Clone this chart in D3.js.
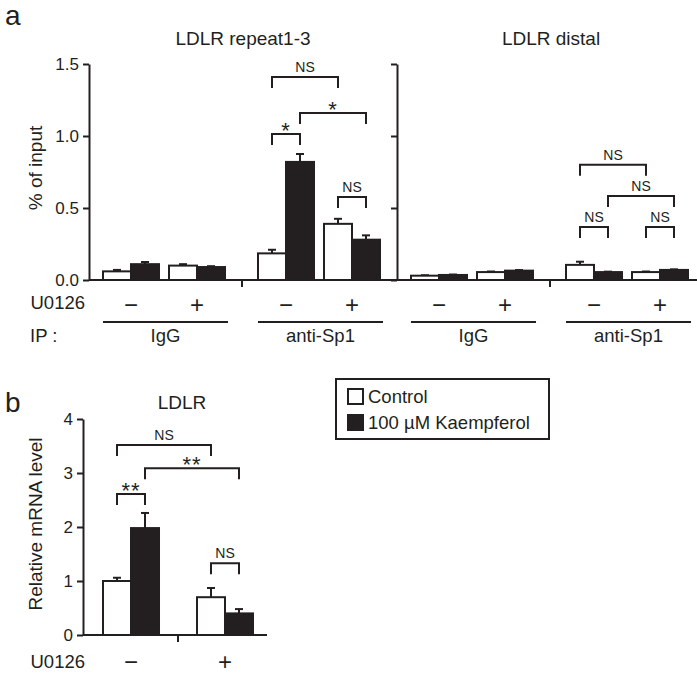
<!DOCTYPE html>
<html><head><meta charset="utf-8">
<script src="https://cdn.jsdelivr.net/npm/d3@7"></script>
<style>
body{margin:0;background:#fff}
svg{display:block}
text{font-family:"Liberation Sans",Arial,Helvetica,sans-serif;fill:#231f20}
</style>
</head><body>
<svg id="c" width="697" height="677"></svg>
<script>
// ---------- data ----------
const PANEL_A = ["LDLR repeat1-3", "LDLR distal"];
const IP = ["IgG", "anti-Sp1"];
const U0126 = ["\u2212", "+"];
const SERIES = ["Control", "100 \u00b5M Kaempferol"];
// order: IgG −, IgG +, anti-Sp1 −, anti-Sp1 +
const repeatControl    = [0.06, 0.10, 0.185, 0.39];
const repeatControlErr = [0.01, 0.01, 0.025, 0.035];
const repeatKaemp      = [0.11, 0.09, 0.82, 0.28];
const repeatKaempErr   = [0.015, 0.006, 0.055, 0.03];
const distalControl    = [0.03, 0.055, 0.105, 0.055];
const distalControlErr = [0.003, 0.004, 0.022, 0.004];
const distalKaemp      = [0.035, 0.065, 0.055, 0.07];
const distalKaempErr   = [0.003, 0.004, 0.003, 0.004];
const A_TICKS = [0, 0.5, 1.0, 1.5];
// panel b: U0126 −, +
const mrnaControl    = [1.0, 0.70];
const mrnaControlErr = [0.06, 0.17];
const mrnaKaemp      = [1.98, 0.40];
const mrnaKaempErr   = [0.28, 0.08];
const B_TICKS = [0, 1, 2, 3, 4];
// significance brackets: [group, series] -> [group, series], level, label
const repeatSig = [
  {a:[2,0], b:[3,0], level:1.41, label:"NS"},
  {a:[2,1], b:[3,1], level:1.16, label:"*"},
  {a:[2,0], b:[2,1], level:1.014, label:"*"},
  {a:[3,0], b:[3,1], level:0.576, label:"NS"}
];
const distalSig = [
  {a:[2,0], b:[3,0], level:0.80, label:"NS"},
  {a:[2,1], b:[3,1], level:0.583, label:"NS"},
  {a:[2,0], b:[2,1], level:0.368, label:"NS"},
  {a:[3,0], b:[3,1], level:0.368, label:"NS"}
];
const mrnaSig = [
  {a:[0,0], b:[1,0], level:3.52, label:"NS"},
  {a:[0,1], b:[1,1], level:3.09, label:"**"},
  {a:[0,0], b:[0,1], level:2.61, label:"**"},
  {a:[1,0], b:[1,1], level:1.33, label:"NS"}
];

// ---------- drawing ----------
const INK = "#231f20";
const svg = d3.select("#c");
const FILL = {"Control":"#fff", "100 \u00b5M Kaempferol":INK};

function drawBars(g, rows){
  rows.forEach(r => {
    const top = r.y(r.v), et = r.y(r.v + r.e);
    const cx = r.x + r.w/2;
    g.append("line").attr("x1",cx).attr("x2",cx).attr("y1",top).attr("y2",et)
      .attr("stroke",INK).attr("stroke-width",2);
    g.append("line").attr("x1",cx-4).attr("x2",cx+4).attr("y1",et).attr("y2",et)
      .attr("stroke",INK).attr("stroke-width",2);
    g.append("rect").attr("x",r.x).attr("y",top).attr("width",r.w)
      .attr("height",r.y(0)-top).attr("fill",FILL[r.s]).attr("stroke",INK).attr("stroke-width",2);
  });
}
function drawSig(g, list, cxOf, y){
  list.forEach(s => {
    const x1 = cxOf(s.a), x2 = cxOf(s.b), ly = y(s.level);
    g.append("path").attr("d",`M${x1},${ly+11}V${ly}H${x2}V${ly+11}`)
      .attr("fill","none").attr("stroke",INK).attr("stroke-width",2);
    const star = s.label.indexOf("*")>=0;
    g.append("text").attr("x",(x1+x2)/2).attr("y", star ? ly+4 : ly-5)
      .attr("text-anchor","middle").attr("font-size", star ? 22 : 14)
      .attr("letter-spacing", star ? 1 : 0).text(s.label);
  });
}
function styleAxis(ax){
  ax.selectAll("path.domain").attr("stroke",INK).attr("stroke-width",2);
  ax.selectAll(".tick line").attr("stroke",INK).attr("stroke-width",2);
  ax.selectAll(".tick text").attr("fill",INK).style("font-family","'Liberation Sans',Arial,sans-serif");
}

// ---- panel a ----
const yA = d3.scaleLinear().domain([0,1.5]).range([280,64]);
const panelX = d3.scaleBand().domain(PANEL_A).range([89,705]);
const ipX = d3.scaleBand().domain(IP).range([-2,308]);
const uX = d3.scaleBand().domain(U0126).range([11,143]);
const sX = d3.scaleBand().domain(SERIES).range([5,61]);
const gA = svg.append("g");

svg.append("text").attr("x",5).attr("y",25).attr("font-size",28).text("a");

const panelData = [
  {name:PANEL_A[0], c:repeatControl, ce:repeatControlErr, k:repeatKaemp, ke:repeatKaempErr, sig:repeatSig},
  {name:PANEL_A[1], c:distalControl, ce:distalControlErr, k:distalKaemp, ke:distalKaempErr, sig:distalSig}
];
panelData.forEach(p => {
  const px = panelX(p.name);
  const gx = i => px + ipX(IP[Math.floor(i/2)]) + uX(U0126[i%2]);
  const rows = [];
  p.c.forEach((v,i) => {
    rows.push({x:gx(i)+sX(SERIES[0]), w:sX.bandwidth(), v, e:p.ce[i], s:SERIES[0], y:yA});
    rows.push({x:gx(i)+sX(SERIES[1]), w:sX.bandwidth(), v:p.k[i], e:p.ke[i], s:SERIES[1], y:yA});
  });
  drawBars(gA, rows);
  drawSig(gA, p.sig, ab => gx(ab[0]) + sX(SERIES[ab[1]]) + sX.bandwidth()/2, yA);
  gA.append("text").attr("x",px+panelX.bandwidth()/2).attr("y",45).attr("text-anchor","middle")
    .attr("font-size",19).text(p.name);
  const sx = px + ipX(IP[1]);
  gA.append("line").attr("x1",sx).attr("x2",sx).attr("y1",280).attr("y2",287).attr("stroke",INK).attr("stroke-width",2);
  IP.forEach(ip => {
    U0126.forEach(u => {
      gA.append("text").attr("x",px+ipX(ip)+uX(u)+uX.bandwidth()/2).attr("y",313)
        .attr("text-anchor","middle").attr("font-size",24).text(u);
    });
    const x1 = px+ipX(ip)+uX(U0126[0])+sX.range()[0];
    const x2 = px+ipX(ip)+uX(U0126[1])+sX.range()[1]+3;
    gA.append("line").attr("x1",x1).attr("x2",x2).attr("y1",322).attr("y2",322).attr("stroke",INK).attr("stroke-width",2);
    gA.append("text").attr("x",(x1+x2)/2).attr("y",342).attr("text-anchor","middle").attr("font-size",18.5).text(ip);
  });
});
gA.append("line").attr("x1",panelX.range()[0]).attr("x2",697).attr("y1",yA(0)).attr("y2",yA(0))
  .attr("stroke",INK).attr("stroke-width",2);
const axA = gA.append("g").attr("transform",`translate(${panelX(PANEL_A[0])},0)`)
  .call(d3.axisLeft(yA).tickValues(A_TICKS).tickFormat(d3.format(".1f")).tickSize(6).tickSizeOuter(0).tickPadding(4));
axA.selectAll(".tick text").attr("font-size",17);
styleAxis(axA);
const axA2 = gA.append("g").attr("transform",`translate(${panelX(PANEL_A[1])},0)`)
  .call(d3.axisLeft(yA).tickValues(A_TICKS).tickFormat("").tickSize(6).tickSizeOuter(0));
styleAxis(axA2);
gA.append("text").attr("transform","translate(42,168) rotate(-90)").attr("text-anchor","middle")
  .attr("font-size",19).text("% of input");
gA.append("text").attr("x",85).attr("y",309).attr("text-anchor","end").attr("font-size",18.5).text("U0126");
gA.append("text").attr("x",30).attr("y",342).attr("font-size",18.5).text("IP :");

// ---- panel b ----
const yB = d3.scaleLinear().domain([0,4]).range([635,419]);
const uXB = d3.scaleBand().domain(U0126).range([84,272]);
const sXB = d3.scaleBand().domain(SERIES).range([19,75]);
const gB = svg.append("g");
svg.append("text").attr("x",5).attr("y",412).attr("font-size",28).text("b");
const rowsB = [];
mrnaControl.forEach((v,i) => {
  rowsB.push({x:uXB(U0126[i])+sXB(SERIES[0]), w:sXB.bandwidth(), v, e:mrnaControlErr[i], s:SERIES[0], y:yB});
  rowsB.push({x:uXB(U0126[i])+sXB(SERIES[1]), w:sXB.bandwidth(), v:mrnaKaemp[i], e:mrnaKaempErr[i], s:SERIES[1], y:yB});
});
drawBars(gB, rowsB);
drawSig(gB, mrnaSig, ab => uXB(U0126[ab[0]]) + sXB(SERIES[ab[1]]) + sXB.bandwidth()/2, yB);
gB.append("line").attr("x1",83).attr("x2",267).attr("y1",yB(0)).attr("y2",yB(0)).attr("stroke",INK).attr("stroke-width",2);
const sepB = uXB(U0126[1]);
gB.append("line").attr("x1",sepB).attr("x2",sepB).attr("y1",635).attr("y2",642).attr("stroke",INK).attr("stroke-width",2);
const axB = gB.append("g").attr("transform","translate(83,0)")
  .call(d3.axisLeft(yB).tickValues(B_TICKS).tickFormat(d3.format("d")).tickSize(6).tickSizeOuter(0).tickPadding(4));
axB.selectAll(".tick text").attr("font-size",17);
styleAxis(axB);
gB.append("text").attr("transform","translate(42,524) rotate(-90)").attr("text-anchor","middle")
  .attr("font-size",19).text("Relative mRNA level");
gB.append("text").attr("x",(uXB.range()[0]+uXB.range()[1])/2 + 4).attr("y",409).attr("text-anchor","middle")
  .attr("font-size",19).text("LDLR");
U0126.forEach(u => {
  gB.append("text").attr("x",uXB(u)+uXB.bandwidth()/2).attr("y",670).attr("text-anchor","middle").attr("font-size",24).text(u);
});
gB.append("text").attr("x",85).attr("y",668).attr("text-anchor","end").attr("font-size",18.5).text("U0126");

// ---- legend ----
const lg = svg.append("g");
lg.append("rect").attr("x",336).attr("y",379).attr("width",213).attr("height",60)
  .attr("fill","#fff").attr("stroke",INK).attr("stroke-width",2);
SERIES.forEach((s,i) => {
  lg.append("rect").attr("x",348).attr("y",389+i*26).attr("width",15).attr("height",15)
    .attr("fill",FILL[s]).attr("stroke",INK).attr("stroke-width",2);
  lg.append("text").attr("x",368).attr("y",403+i*26).attr("font-size",18.5).text(s);
});
</script>
</body></html>
